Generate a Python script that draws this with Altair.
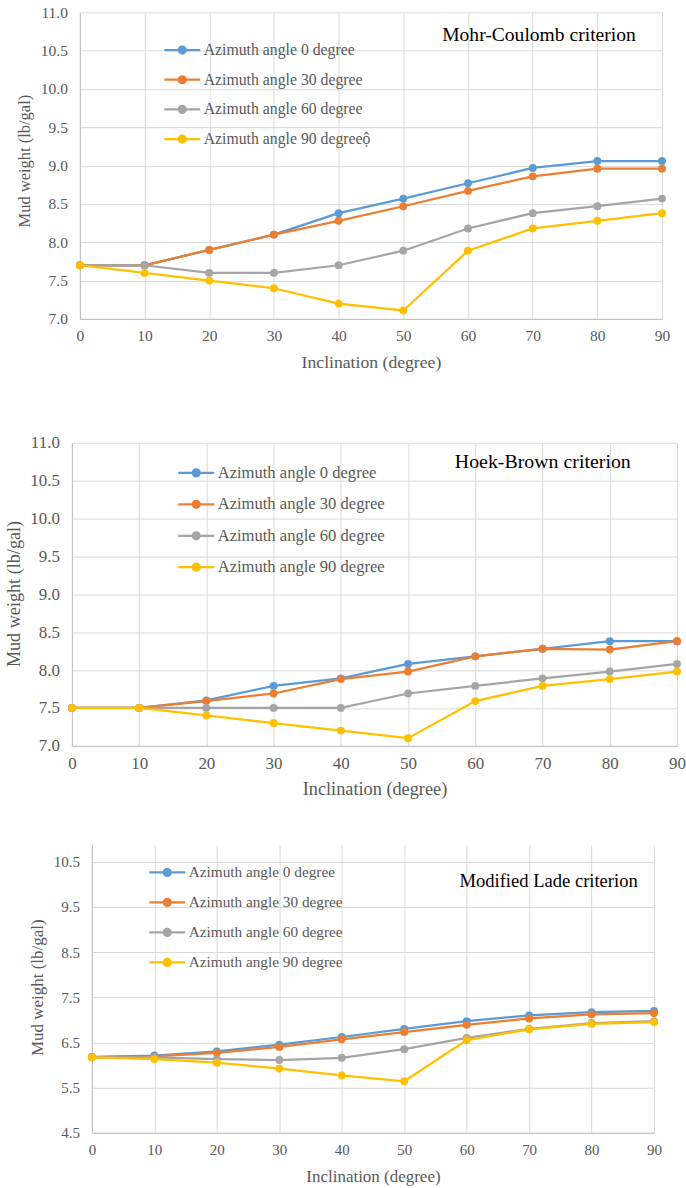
import altair as alt
import pandas as pd

inclination = [0, 10, 20, 30, 40, 50, 60, 70, 80, 90]

names_mc = ["Azimuth angle 0 degree", "Azimuth angle 30 degree",
            "Azimuth angle 60 degree", "Azimuth angle 90 degreeộ"]
names = ["Azimuth angle 0 degree", "Azimuth angle 30 degree",
         "Azimuth angle 60 degree", "Azimuth angle 90 degree"]
colors = ["#5B9BD5", "#ED7D31", "#A5A5A5", "#FFC000"]

# Mohr-Coulomb criterion
mc_az0 = [7.7, 7.7, 7.9, 8.1, 8.38, 8.57, 8.77, 8.97, 9.06, 9.06]
mc_az30 = [7.7, 7.7, 7.9, 8.1, 8.28, 8.47, 8.67, 8.86, 8.96, 8.96]
mc_az60 = [7.7, 7.7, 7.6, 7.6, 7.7, 7.89, 8.18, 8.38, 8.47, 8.57]
mc_az90 = [7.7, 7.6, 7.5, 7.4, 7.2, 7.11, 7.89, 8.18, 8.28, 8.38]

# Hoek-Brown criterion
hb_az0 = [7.5, 7.5, 7.6, 7.79, 7.89, 8.08, 8.18, 8.28, 8.38, 8.38]
hb_az30 = [7.5, 7.5, 7.59, 7.69, 7.88, 7.98, 8.18, 8.28, 8.27, 8.38]
hb_az60 = [7.5, 7.5, 7.5, 7.5, 7.5, 7.69, 7.79, 7.89, 7.98, 8.08]
hb_az90 = [7.5, 7.5, 7.4, 7.3, 7.2, 7.1, 7.59, 7.79, 7.88, 7.98]

# Modified Lade criterion
ml_az0 = [6.18, 6.21, 6.3, 6.45, 6.62, 6.8, 6.97, 7.1, 7.17, 7.2]
ml_az30 = [6.17, 6.19, 6.27, 6.4, 6.57, 6.73, 6.89, 7.03, 7.12, 7.15]
ml_az60 = [6.17, 6.17, 6.13, 6.11, 6.16, 6.35, 6.6, 6.8, 6.93, 6.97]
ml_az90 = [6.17, 6.13, 6.05, 5.92, 5.77, 5.64, 6.55, 6.79, 6.91, 6.95]

ticks_a = [7.0, 7.5, 8.0, 8.5, 9.0, 9.5, 10.0, 10.5, 11.0]
ticks_c = [4.5, 5.5, 6.5, 7.5, 8.5, 9.5, 10.5]
x_ticks = [0, 10, 20, 30, 40, 50, 60, 70, 80, 90]

FONT = "Liberation Serif"
GRAY = "#595959"

# legend symbol: Excel style line with a dot in the middle
SYMBOL = ("M-1.8,0L1.8,0"
          "M-0.35,0A0.35,0.35,0,1,1,0.35,0A0.35,0.35,0,1,1,-0.35,0Z"
          "M-0.2,0A0.2,0.2,0,1,1,0.2,0A0.2,0.2,0,1,1,-0.2,0Z"
          "M-0.05,0A0.05,0.05,0,1,1,0.05,0A0.05,0.05,0,1,1,-0.05,0Z")


def panel(series, labels, title, ydom, yticks, w, h, tick_fs, ytitle_fs,
          xtitle_fs, leg_fs, title_fs, ytx, yty, leg_x, leg_y, row_pad,
          t_dx, t_off):
    rows = []
    for k, (lab, vals) in enumerate(zip(labels, series)):
        for xi, v in zip(inclination, vals):
            rows.append({"inc": xi, "mw": v, "series": lab, "k": k})
    df = pd.DataFrame(rows)

    x = alt.X("inc:Q", scale=alt.Scale(domain=[0, 90], nice=False),
              axis=alt.Axis(values=x_ticks, title="Inclination (degree)",
                            labelFont=FONT, labelFontSize=tick_fs, labelColor=GRAY,
                            labelPadding=10, labelFlush=False, ticks=False,
                            domainColor="#BFBFBF", gridColor="#D9D9D9",
                            titleFont=FONT, titleFontSize=xtitle_fs,
                            titleFontWeight="normal", titleColor=GRAY,
                            titleY=43.7, titleBaseline="middle"))
    y = alt.Y("mw:Q", scale=alt.Scale(domain=ydom, nice=False, zero=False),
              axis=alt.Axis(values=yticks, format=".1f", title="Mud weight (lb/gal)",
                            labelFont=FONT, labelFontSize=tick_fs, labelColor=GRAY,
                            labelPadding=12.5, labelFlush=False, ticks=False,
                            domainColor="#BFBFBF", gridColor="#D9D9D9",
                            titleFont=FONT, titleFontSize=ytitle_fs,
                            titleFontWeight="normal", titleColor=GRAY,
                            titleX=ytx, titleY=yty, titleBaseline="middle",
                            titleAngle=270))
    color = alt.Color("series:N",
                      scale=alt.Scale(domain=labels, range=colors),
                      legend=alt.Legend(orient="none", legendX=leg_x, legendY=leg_y,
                                        title=None, symbolType=SYMBOL,
                                        symbolSize=400, symbolStrokeWidth=2.25,
                                        labelFont=FONT, labelFontSize=leg_fs,
                                        labelColor=GRAY, rowPadding=row_pad,
                                        labelOffset=10, labelLimit=400, padding=0,
                                        symbolOffset=0))
    layers = []
    for lab in labels:
        base = alt.Chart(df).transform_filter(alt.datum.series == lab)
        layers.append(base.mark_line(strokeWidth=2.25).encode(
            x=x, y=y, color=color, order="inc:Q"))
        layers.append(base.mark_point(filled=True, size=62, opacity=1).encode(
            x=x, y=y, color=color))
    return alt.layer(*layers).properties(
        width=w, height=h,
        title=alt.TitleParams(text=title, anchor="end", frame="group",
                              orient="top", offset=t_off, dx=t_dx,
                              baseline="middle", font=FONT,
                              fontSize=title_fs, fontWeight="normal",
                              color="#000000"))


def spacer(w, h):
    return alt.Chart(pd.DataFrame({"s": [0]})).mark_point(opacity=0, size=0).encode(
        x=alt.value(0), y=alt.value(0)).properties(width=w, height=h)


p1 = panel([mc_az0, mc_az30, mc_az60, mc_az90], names_mc, "Mohr-Coulomb criterion",
           [7, 11], ticks_a, 583, 307, 15.5, 16.5, 17.7, 15.8, 19.6,
           -55.3, 148.5, 171, 26.3, 9.7, -26.3, -49.4)
p2 = panel([hb_az0, hb_az30, hb_az60, hb_az90], names, "Hoek-Brown criterion",
           [7, 11], ticks_a, 606, 303.5, 17, 18.2, 18.3, 16.6, 19.9,
           -57, 151, 185, 18.7, 10.5, -46.3, -48.6)
p3 = panel([ml_az0, ml_az30, ml_az60, ml_az90], names, "Modified Lade criterion",
           [4.5, 10.87], ticks_c, 563, 288, 15, 17, 17, 15.3, 18.6,
           -54.3, 142.3, 156, 15.9, 10, -16.3, -54.9)

row1 = alt.hconcat(spacer(15.75, 421.5), p1, spacing=0)
row2 = alt.hconcat(spacer(4.2, 402.7), p2, spacing=0)
row3 = alt.hconcat(spacer(27.5, 10), p3, spacing=0)

chart = alt.vconcat(row1, row2, row3, spacing=0).resolve_scale(
    color="independent").resolve_legend(color="independent").properties(
    padding={"left": 0, "top": 4.5, "right": 0, "bottom": 0}
).configure(background="white", font=FONT).configure_view(
    strokeWidth=0).configure_axis(labelFont=FONT, titleFont=FONT).configure_legend(
    labelFont=FONT).configure_title(font=FONT)

chart.save("out.html", embed_options={"renderer": "svg", "actions": False})
